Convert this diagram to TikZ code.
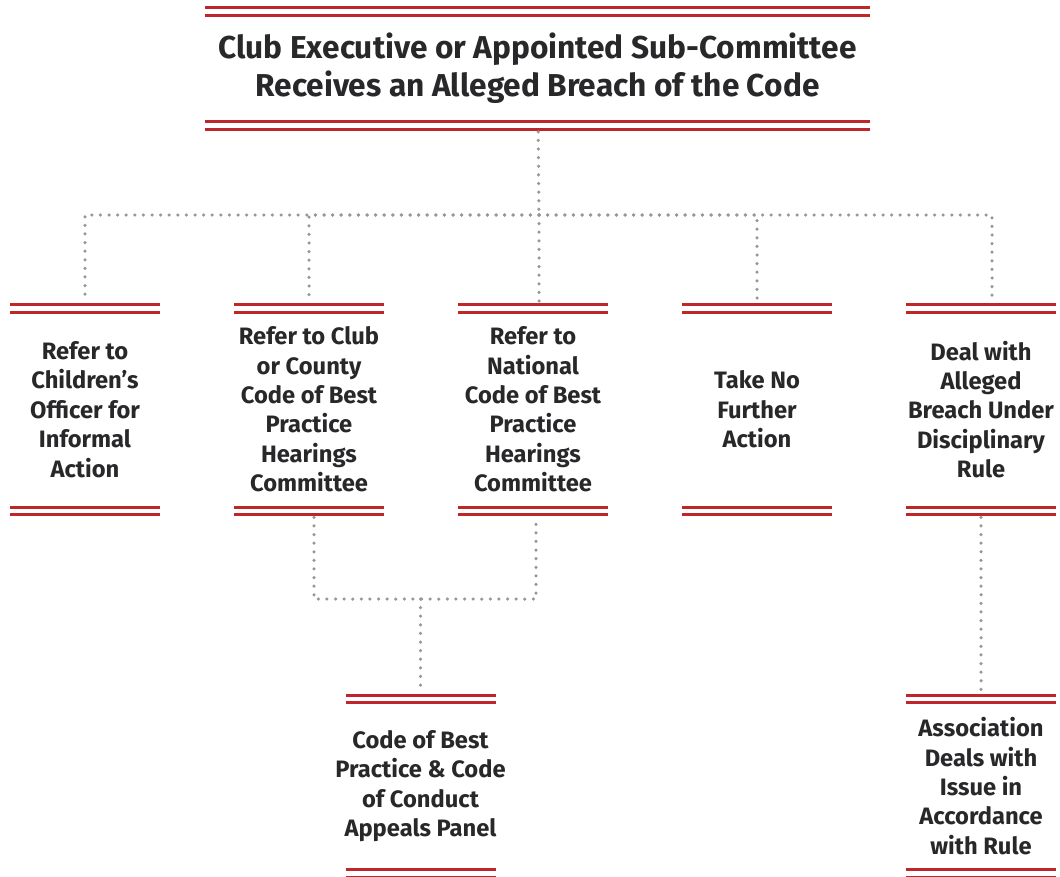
\documentclass[tikz,border=0pt]{standalone}
\usepackage{fontspec}
\setmainfont{Fira Sans}
\usetikzlibrary{positioning}
\definecolor{breachred}{RGB}{190,38,44}
\definecolor{dotgrey}{RGB}{150,150,155}
\definecolor{inkgrey}{RGB}{40,40,42}
\newcommand\ppbb{path picture bounding box}
\tikzset{
	rule half/.store in=\rulehalf, rule half=1.5cm,
	redrule/.style = {draw=breachred, line width=0.06cm},
	ruledbox/.style = {rectangle, fill=white, minimum width=3cm, minimum height=4.3cm,
		align=center, text=inkgrey, font=\fontsize{13.5}{16.7}\selectfont\bfseries,
		path picture={\foreach \dy in {0.05cm,0.2cm} {
			\draw[redrule] ([xshift=-\rulehalf,yshift=-\dy] \ppbb.north) -- ([xshift=\rulehalf,yshift=-\dy] \ppbb.north);
			\draw[redrule] ([xshift=-\rulehalf,yshift=\dy] \ppbb.south) -- ([xshift=\rulehalf,yshift=\dy] \ppbb.south);
			}
		},% end of path picture
	},
	link/.style = {draw=dotgrey, line width=0.07cm, line cap=round, dash pattern=on 0pt off 0.172cm}
}

\begin{document}
\begin{tikzpicture}[node distance=4.48cm]
\useasboundingbox (0,0) rectangle (21.2,-17.52);
% Placement of nodes
\node (receive) [ruledbox, rule half=6.65cm, minimum width=13.3cm, minimum height=2.52cm,
	font=\fontsize{18}{21.6}\selectfont\bfseries] at (10.75,-1.37)
	{Club Executive or Appointed Sub-Committee\\Receives an Alleged Breach of the Code};
\node (childOff) [ruledbox] at (1.7,-8.19) {Refer to\\Children’s\\Officer for\\Informal\\Action};
\node (countyHear) [ruledbox, right of=childOff] {Refer to Club\\or County\\Code of Best\\Practice\\Hearings\\Committee};
\node (natHear) [ruledbox, right of=countyHear] {Refer to\\National\\Code of Best\\Practice\\Hearings\\Committee};
\node (noAction) [ruledbox, right of=natHear] {Take No\\Further\\Action};
\node (discRule) [ruledbox, right of=noAction] {Deal with\\Alleged\\Breach Under\\Disciplinary\\Rule};

\node (appeals) [ruledbox, minimum height=3.74cm] at (8.41,-15.72) {Code of Best\\Practice \& Code\\of Conduct\\Appeals Panel};
\node (assocRule) [ruledbox, minimum height=3.74cm, below of=discRule, node distance=7.53cm] {Association\\Deals with\\Issue in\\Accordance\\with Rule};

\coordinate (split) at (10.78,-4.3);
\coordinate (merge) at (8.41,-11.98);

% Placement of edges
\draw [link] (receive) -- (split);
\draw [link] (split) -| (childOff);
\draw [link] (split) -| (countyHear);
\draw [link] (split) -- (split |- natHear.north);
\draw [link] (split) -| (noAction);
\draw [link] (split) -| ([xshift=0.22cm] discRule.north);

% appeals
\draw [link] ([xshift=0.1cm] countyHear.south) |- (merge) -| ([xshift=0.06cm] natHear.south);
\draw [link] (merge) -- (appeals);
% association
\draw [link] (discRule) -- (assocRule);

\end{tikzpicture}
\end{document}
